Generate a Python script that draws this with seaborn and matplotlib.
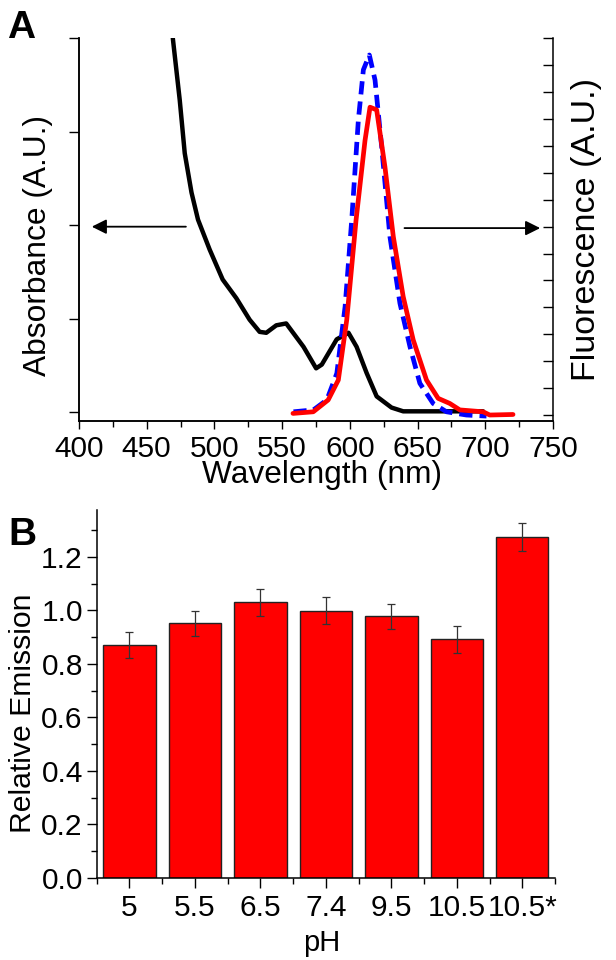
import numpy as np
import matplotlib
matplotlib.use("Agg")
import matplotlib.pyplot as plt
import seaborn as sns

# panel A: absorbance (left axis) and emission spectra (right axis)
abs_nm = [469.3, 474.4, 478.1, 483.1, 487.9, 496.5, 506.1, 516.2, 526.0, 533.4, 538.3,
          545.7, 553.0, 565.8, 575.1, 579.3, 590.3, 599.0, 605.0, 612.4, 619.8, 630.8,
          639.4, 698.4]
abs_val = [4.0, 3.34, 2.77, 2.35, 2.06, 1.74, 1.42, 1.22, 0.99, 0.86, 0.85,
           0.93, 0.95, 0.70, 0.47, 0.51, 0.78, 0.85, 0.70, 0.42, 0.17, 0.05,
           0.01, 0.01]

red_nm = [558.0, 573.0, 584.0, 591.5, 597.7, 604.6, 611.2, 614.9, 619.8, 625.9,
          632.1, 639.4, 646.8, 656.6, 665.2, 673.8, 681.2, 698.4, 703.3, 720.5]
red_val = [0.06, 0.12, 0.56, 1.30, 3.53, 7.25, 10.2, 11.44, 11.34, 9.23,
           6.63, 4.40, 2.79, 1.30, 0.62, 0.43, 0.19, 0.12, 0.0, 0.02]

blue_nm = [558.4, 573.1, 583.0, 590.4, 596.5, 601.4, 606.3, 610.0, 614.4, 618.6,
           623.5, 629.6, 637.0, 644.4, 651.7, 661.5, 671.4, 686.1, 700.9]
blue_val = [0.12, 0.19, 0.56, 1.55, 4.03, 7.25, 10.97, 12.83, 13.38, 12.45,
            9.97, 6.63, 4.15, 2.54, 1.18, 0.43, 0.12, 0.0, -0.04]

# panel B: relative emission vs pH
ph_labels = ["5", "5.5", "6.5", "7.4", "9.5", "10.5", "10.5*"]
emission = [0.870, 0.951, 1.030, 0.998, 0.977, 0.891, 1.275]
emission_err = [0.048, 0.048, 0.051, 0.050, 0.048, 0.052, 0.052]

sns.set_theme(style="ticks")
plt.rcParams["font.family"] = ["Liberation Sans", "DejaVu Sans"]
plt.rcParams.update({"text.color": "black", "axes.labelcolor": "black",
                     "xtick.color": "black", "ytick.color": "black",
                     "axes.edgecolor": "black"})

fig = plt.figure(figsize=(6.16, 9.6), dpi=100)

# ---- panel A
ax = fig.add_axes([0.1282, 0.5618, 0.7695, 0.3983])
ax2 = ax.twinx()

sns.lineplot(x=abs_nm, y=abs_val, ax=ax, color="black", lw=3.2, estimator=None)
sns.lineplot(x=blue_nm, y=blue_val, ax=ax2, color="#0000FF", lw=3.4, estimator=None)
ax2.lines[-1].set_dashes((2.8, 1.5))
sns.lineplot(x=red_nm, y=red_val, ax=ax2, color="#FF0000", lw=3.4, estimator=None)

ax.set_xlim(400, 750)
ax.set_ylim(-0.09, 4)
ax2.set_ylim(-0.21, 14)
ax.set_xticks(np.arange(400, 751, 50))
ax.set_xticks(np.arange(400, 751, 25), minor=True)
ax.set_yticks(np.arange(0, 5, 1))
ax.set_yticklabels([])
ax2.set_yticks(np.arange(0, 15, 1))
ax2.set_yticklabels([])

ax.tick_params(axis="x", which="major", length=6, width=1, labelsize=21.5, pad=4)
ax.tick_params(axis="x", which="minor", length=4, width=1)
ax.tick_params(axis="y", length=7, width=1)
ax2.tick_params(axis="y", direction="in", length=7, width=1)
for a in (ax, ax2):
    a.spines["top"].set_visible(False)
    for s in a.spines.values():
        s.set_linewidth(1.1)
ax.spines["right"].set_visible(False)

ax.set_xlabel("Wavelength (nm)", fontsize=22.8)
ax.xaxis.set_label_coords(0.513, -0.103)
ax.set_ylabel("Absorbance (A.U.)", fontsize=22.9)
ax.yaxis.set_label_coords(-0.054, 0.457)
ax2.set_ylabel("Fluorescence (A.U.)", fontsize=24.5)
ax2.yaxis.set_label_coords(1.038, 0.499)

arrow = dict(arrowstyle="-|>", mutation_scale=22, lw=1.3, color="black")
ax.annotate("", xy=(407.4, 1.985), xytext=(481, 1.985), arrowprops=arrow)
ax.annotate("", xy=(742.6, 1.97), xytext=(638.3, 1.97), arrowprops=arrow)

# ---- panel B
axb = fig.add_axes([0.157, 0.0857, 0.744, 0.383])
sns.barplot(x=ph_labels, y=emission, order=ph_labels, ax=axb, color="#FF0000",
            saturation=1, width=0.8, edgecolor="#222222", linewidth=1, errorbar=None)
axb.errorbar(np.arange(len(ph_labels)), emission, yerr=emission_err, fmt="none",
             ecolor="#333333", elinewidth=0.9, capsize=3, capthick=0.9)

axb.set_xlim(-0.5, 6.5)
axb.set_ylim(0, 1.375)
axb.set_yticks(np.arange(0, 1.3, 0.2))
axb.set_yticks(np.arange(0, 1.35, 0.1), minor=True)
axb.set_xticks(np.arange(-0.5, 7, 1), minor=True)
axb.tick_params(axis="both", which="major", length=7, width=1, labelsize=21.5)
axb.tick_params(axis="y", which="major", pad=3)
axb.tick_params(axis="x", which="major", pad=5)
axb.tick_params(axis="both", which="minor", length=4, width=1)
sns.despine(ax=axb)
for s in axb.spines.values():
    s.set_linewidth(1.1)

axb.set_xlabel("pH", fontsize=21)
axb.xaxis.set_label_coords(0.491, -0.1395)
axb.set_ylabel("Relative Emission", fontsize=21.7)
axb.yaxis.set_label_coords(-0.13, 0.448)

fig.text(0.011, 1 - 10 / 960, "A", fontsize=28, fontweight="bold", va="top", ha="left")
fig.text(0.013, 1 - 517 / 960, "B", fontsize=28, fontweight="bold", va="top", ha="left")

fig.savefig("out.png", dpi=100)
